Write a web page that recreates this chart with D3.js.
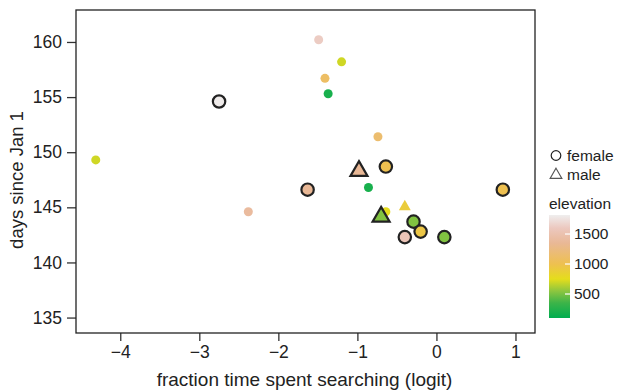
<!DOCTYPE html>
<html>
<head>
<meta charset="utf-8">
<script src="https://cdn.jsdelivr.net/npm/d3@7"></script>
<style>
  body { margin: 0; background: #fff; }
  svg text { font-family: "Liberation Sans", Arial, sans-serif; fill: #222; }
</style>
</head>
<body>
<script>
// small dots (no outline)
var smallX    = [-1.49, -1.20, -1.41, -1.37, -4.31, -0.74, -2.38, -0.86, -0.64, -0.40];
var smallY    = [160.2, 158.2, 156.7, 155.3, 149.3, 151.4, 144.6, 146.8, 144.6, 145.05];
var smallElev = [1620, 700, 1100, 200, 700, 1150, 1400, 200, 760, 900];
var smallSex  = ["f", "f", "f", "f", "f", "f", "f", "f", "f", "m"];

// outlined points
var bigX    = [-2.75, -1.63, -0.98, -0.64, 0.84, -0.70, -0.29, -0.20, -0.40, 0.10];
var bigY    = [154.6, 146.6, 148.3, 148.7, 146.6, 144.15, 143.7, 142.8, 142.3, 142.3];
var bigElev = [1800, 1350, 1350, 1000, 1000, 520, 520, 950, 1560, 520];
var bigSex  = ["f", "f", "m", "f", "f", "m", "f", "f", "f", "f"];

var xTicks = [-4, -3, -2, -1, 0, 1];
var yTicks = [135, 140, 145, 150, 155, 160];
var elevTicks = [500, 1000, 1500];
var elevStops  = [100, 350, 550, 750, 1000, 1350, 1600, 1817];
var elevColors = ["#00ad4f", "#3cb449", "#8dc63f", "#e5dd1c", "#eec050", "#e9b896", "#ecc8bf", "#efeeee"];

var width = 618, height = 392;
var plot = { left: 76, top: 10, right: 535, bottom: 333 };

var svg = d3.select("body").append("svg")
  .attr("width", width)
  .attr("height", height);

var xScale = d3.scaleLinear().domain([-4.56, 1.247]).range([plot.left, plot.right]);
var yScale = d3.scaleLinear().domain([133.6, 162.9]).range([plot.bottom, plot.top]);
var color = d3.scaleLinear().domain(elevStops).range(elevColors).interpolate(d3.interpolateRgb);

var fmt = function(d) { return d < 0 ? "\u2212" + Math.abs(d) : String(d); };

var xAxis = d3.axisBottom(xScale).tickValues(xTicks).tickFormat(fmt).tickSize(8).tickPadding(5);
var yAxis = d3.axisLeft(yScale).tickValues(yTicks).tickSize(9).tickPadding(5);

var gx = svg.append("g")
  .attr("transform", "translate(0," + plot.bottom + ")")
  .call(xAxis);
var gy = svg.append("g")
  .attr("transform", "translate(" + plot.left + ",0)")
  .call(yAxis);

[gx, gy].forEach(function(g) {
  g.select(".domain").remove();
  g.selectAll("line").attr("stroke", "#333").attr("stroke-width", 1.3);
  g.selectAll("text").style("font-size", "17.5px").attr("fill", "#222");
});

// frame
svg.append("rect")
  .attr("x", plot.left).attr("y", plot.top)
  .attr("width", plot.right - plot.left)
  .attr("height", plot.bottom - plot.top)
  .attr("fill", "none")
  .attr("stroke", "#222")
  .attr("stroke-width", 1.3);

svg.append("text")
  .attr("x", (plot.left + plot.right) / 2 - 1)
  .attr("y", 386)
  .attr("text-anchor", "middle")
  .style("font-size", "19px")
  .text("fraction time spent searching (logit)");

svg.append("text")
  .attr("transform", "translate(23,180) rotate(-90)")
  .attr("text-anchor", "middle")
  .style("font-size", "18.5px")
  .text("days since Jan 1");

var small = smallX.map(function(x, i) {
  return { x: x, y: smallY[i], elev: smallElev[i], sex: smallSex[i] };
});
var big = bigX.map(function(x, i) {
  return { x: x, y: bigY[i], elev: bigElev[i], sex: bigSex[i] };
});

function drawPoints(data, r, triArea, outline) {
  var g = svg.append("g");
  data.forEach(function(d) {
    var px = xScale(d.x), py = yScale(d.y);
    var mark;
    if (d.sex === "f") {
      mark = g.append("circle").attr("cx", px).attr("cy", py).attr("r", r);
    } else {
      mark = g.append("path")
        .attr("d", d3.symbol().type(d3.symbolTriangle).size(triArea)())
        .attr("transform", "translate(" + px + "," + py + ")");
    }
    mark.attr("fill", color(d.elev));
    if (outline) {
      mark.attr("stroke", "#222").attr("stroke-width", 2.2).attr("stroke-linejoin", "miter");
    }
  });
}

drawPoints(small, 4.5, 62, false);
drawPoints(big, 6.2, 125, true);

// legend
var leg = svg.append("g");
leg.append("circle")
  .attr("cx", 556).attr("cy", 155.5).attr("r", 4.8)
  .attr("fill", "none").attr("stroke", "#222").attr("stroke-width", 1.2);
leg.append("text").attr("x", 567).attr("y", 161).style("font-size", "15.5px").text("female");
leg.append("path")
  .attr("d", d3.symbol().type(d3.symbolTriangle).size(60)())
  .attr("transform", "translate(556,175)")
  .attr("fill", "none").attr("stroke", "#555").attr("stroke-width", 1.1);
leg.append("text").attr("x", 567).attr("y", 180).style("font-size", "15.5px").text("male");
leg.append("text").attr("x", 549).attr("y", 209).style("font-size", "15.5px").text("elevation");

// colour bar
var barTop = 215, barBottom = 318, barLeft = 549, barW = 21;
var barScale = d3.scaleLinear().domain([100, 1817]).range([barBottom, barTop]);
var grad = svg.append("defs").append("linearGradient")
  .attr("id", "elevGrad")
  .attr("x1", 0).attr("y1", 1).attr("x2", 0).attr("y2", 0);
elevStops.forEach(function(e, i) {
  grad.append("stop")
    .attr("offset", (e - 100) / (1817 - 100))
    .attr("stop-color", elevColors[i]);
});
svg.append("rect")
  .attr("x", barLeft).attr("y", barTop)
  .attr("width", barW).attr("height", barBottom - barTop)
  .attr("fill", "url(#elevGrad)");

var cb = svg.append("g");
elevTicks.forEach(function(t) {
  cb.append("line")
    .attr("x1", barLeft + barW - 5).attr("x2", barLeft + barW)
    .attr("y1", barScale(t)).attr("y2", barScale(t))
    .attr("stroke", "#fff").attr("stroke-width", 1.2);
  cb.append("text")
    .attr("x", barLeft + barW + 4)
    .attr("y", barScale(t))
    .attr("dy", "0.35em")
    .style("font-size", "15.5px")
    .text(t);
});
</script>
</body>
</html>
